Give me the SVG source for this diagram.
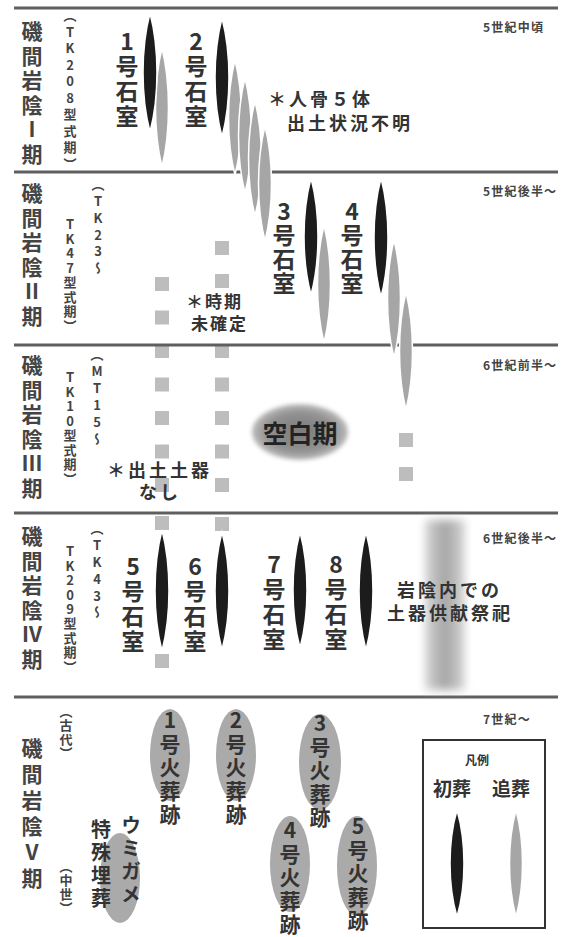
<svg xmlns="http://www.w3.org/2000/svg" width="567" height="937" viewBox="0 0 567 937">
<style>
text{font-family:"Noto Sans CJK JP","Noto Sans",sans-serif;font-weight:700;fill:#333}
.v{writing-mode:vertical-rl;text-orientation:upright}
.big{font-size:21px;letter-spacing:3.5px;fill:#444}
.sm{font-size:13px;fill:#444}
.room{font-size:23px;letter-spacing:2px}
.kaso{font-size:21px;letter-spacing:2.5px}
.note{font-size:18px;letter-spacing:3px}
.era{font-size:12px;letter-spacing:1.2px;fill:#444}
.sep{stroke:#5f5f5f;stroke-width:3}
.blk{fill:#1c1c1c;stroke:#fff;stroke-width:1.5}
.gry{fill:#a6a6a6;stroke:#fff;stroke-width:1.5}
.sq{fill:#bdbdbd}
.pit{fill:#aaa}
</style>
<defs>
<path id="lens" d="M0,-60 C9.3,-24 9.3,24 0,60 C-9.3,24 -9.3,-24 0,-60Z" vector-effect="non-scaling-stroke"/>
<radialGradient id="blank" cx="0.5" cy="0.5" r="0.5">
<stop offset="0" stop-color="#7a7a7a"/><stop offset="0.7" stop-color="#929292"/><stop offset="1" stop-color="#bcbcbc"/>
</radialGradient>
<linearGradient id="bar" x1="0" y1="0" x2="1" y2="0">
<stop offset="0" stop-color="#d6d6d6"/><stop offset="0.5" stop-color="#a4a4a4"/><stop offset="1" stop-color="#d6d6d6"/>
</linearGradient>
<filter id="soft" x="-30%" y="-30%" width="160%" height="160%"><feGaussianBlur stdDeviation="2"/></filter>
<filter id="soft4" x="-50%" y="-20%" width="200%" height="140%"><feGaussianBlur stdDeviation="4"/></filter>
</defs>

<g id="connectors">
<rect class="sq" x="155" y="277" width="14" height="14"/>
<rect class="sq" x="155" y="310.5" width="14" height="14"/>
<rect class="sq" x="155" y="344" width="14" height="14"/>
<rect class="sq" x="155" y="377.5" width="14" height="14"/>
<rect class="sq" x="155" y="411" width="14" height="14"/>
<rect class="sq" x="155" y="444.5" width="14" height="14"/>
<rect class="sq" x="155" y="478" width="14" height="14"/>
<rect class="sq" x="155" y="516" width="14" height="14"/>
<rect class="sq" x="155" y="654" width="14" height="14"/>
<rect class="sq" x="215" y="241" width="14" height="14"/>
<rect class="sq" x="215" y="274" width="14" height="14"/>
<rect class="sq" x="215" y="344" width="14" height="14"/>
<rect class="sq" x="215" y="377.5" width="14" height="14"/>
<rect class="sq" x="215" y="411" width="14" height="14"/>
<rect class="sq" x="215" y="444.5" width="14" height="14"/>
<rect class="sq" x="215" y="478" width="14" height="14"/>
<rect class="sq" x="215" y="517" width="14" height="14"/>
<rect class="sq" x="399" y="433" width="14" height="14"/>
<rect class="sq" x="399" y="467" width="14" height="14"/>
</g>

<g id="period-lines">
<line class="sep" x1="14" y1="8" x2="558" y2="8"/>
<line class="sep" x1="14" y1="172" x2="558" y2="172"/>
<line class="sep" x1="14" y1="345" x2="558" y2="345"/>
<line class="sep" x1="14" y1="513" x2="558" y2="513"/>
<line class="sep" x1="14" y1="697" x2="558" y2="697"/>
</g>

<g id="period-labels">
<text class="v big" x="32" y="21">磯間岩陰Ⅰ期</text>
<text class="v big" x="32" y="183">磯間岩陰Ⅱ期</text>
<text class="v big" x="32" y="355">磯間岩陰Ⅲ期</text>
<text class="v big" x="32" y="526">磯間岩陰Ⅳ期</text>
<text class="v big" x="32" y="738" style="letter-spacing:5px">磯間岩陰Ⅴ期</text>
<text class="v sm" x="70" y="9" style="letter-spacing:3.5px">（TK208型式期）</text>
<text class="v sm" x="98" y="178" style="letter-spacing:3.7px">（TK23～</text>
<text class="v sm" x="70" y="218" style="letter-spacing:1.5px">TK47型式期）</text>
<text class="v sm" x="97" y="348" style="letter-spacing:4px">（MT15～</text>
<text class="v sm" x="70" y="371" style="letter-spacing:1.5px">TK10型式期）</text>
<text class="v sm" x="97" y="522" style="letter-spacing:3.8px">（TK43～</text>
<text class="v sm" x="70" y="545" style="letter-spacing:1.4px">TK209型式期）</text>
<text class="v sm" x="66" y="705" style="letter-spacing:1px">（古代）</text>
<text class="v sm" x="66" y="860" style="letter-spacing:1px">（中世）</text>
<text class="era" x="483" y="32">5世紀中頃</text>
<text class="era" x="483" y="196">5世紀後半～</text>
<text class="era" x="483" y="370">6世紀前半～</text>
<text class="era" x="483" y="543">6世紀後半～</text>
<text class="era" x="483" y="724">7世紀～</text>
</g>

<g id="room1">
<use href="#lens" class="gry" transform="translate(162,107.5) scale(0.93,0.992)"/>
<use href="#lens" class="blk" transform="translate(150,72.5) scale(1,0.992)"/>
<text class="v room" x="127" y="30">1号石室</text>
</g>

<g id="room2">
<use href="#lens" class="blk" transform="translate(222,77.5) scale(1,0.992)"/>
<use href="#lens" class="gry" transform="translate(235,117.5) scale(0.93,0.958)"/>
<use href="#lens" class="gry" transform="translate(245,135.5) scale(0.93,0.958)"/>
<use href="#lens" class="gry" transform="translate(255,158.5) scale(0.93,0.958)"/>
<use href="#lens" class="gry" transform="translate(265,183.5) scale(0.93,0.958)"/>
<text class="v room" x="196" y="30">2号石室</text>
</g>

<g id="note-bones">
<text class="note" x="268" y="106">＊人骨５体</text>
<text class="note" x="287" y="130">出土状況不明</text>
</g>

<g id="room3">
<use href="#lens" class="blk" transform="translate(311,236.5) scale(1,0.975)"/>
<use href="#lens" class="gry" transform="translate(324,284) scale(0.93,0.983)"/>
<text class="v room" x="284" y="200" style="letter-spacing:1px">3号石室</text>
</g>

<g id="room4">
<use href="#lens" class="blk" transform="translate(381,237.5) scale(1,0.992)"/>
<use href="#lens" class="gry" transform="translate(394,299) scale(0.93,0.983)"/>
<use href="#lens" class="gry" transform="translate(406,351) scale(0.93,0.983)"/>
<text class="v room" x="352" y="200" style="letter-spacing:1px">4号石室</text>
</g>

<g id="note-undated">
<text x="186" y="308" style="font-size:17px;letter-spacing:2px">＊時期</text>
<text x="191" y="330" style="font-size:17px;letter-spacing:2px">未確定</text>
</g>

<g id="blank-period">
<ellipse cx="300" cy="432" rx="48" ry="28" fill="url(#blank)" filter="url(#soft)"/>
<text x="300" y="443" text-anchor="middle" style="font-size:25px;fill:#222">空白期</text>
</g>

<g id="note-nopottery">
<text class="note" x="107" y="477">＊出土土器</text>
<text class="note" x="139" y="499">なし</text>
</g>

<g id="room5">
<use href="#lens" class="blk" transform="translate(162,590.5) scale(1,1.008)"/>
<text class="v room" x="133" y="555">5号石室</text>
</g>
<g id="room6">
<use href="#lens" class="blk" transform="translate(222,591) scale(1,0.983)"/>
<text class="v room" x="195" y="555">6号石室</text>
</g>
<g id="room7">
<use href="#lens" class="blk" transform="translate(300,590) scale(1,0.967)"/>
<text class="v room" x="274" y="553">7号石室</text>
</g>
<g id="room8">
<use href="#lens" class="blk" transform="translate(366,591) scale(1,0.983)"/>
<text class="v room" x="336" y="553">8号石室</text>
</g>

<g id="ritual">
<rect x="425" y="520" width="40" height="170" fill="url(#bar)" filter="url(#soft4)"/>
<text class="note" x="397" y="597">岩陰内での</text>
<text class="note" x="387" y="620">土器供献祭祀</text>
</g>

<g id="cremation1">
<ellipse class="pit" cx="170" cy="755" rx="20" ry="46"/>
<text class="v kaso" x="170" y="710">1号火葬跡</text>
</g>
<g id="cremation2">
<ellipse class="pit" cx="236" cy="755" rx="20" ry="46"/>
<text class="v kaso" x="236" y="710">2号火葬跡</text>
</g>
<g id="cremation3">
<ellipse class="pit" cx="320" cy="762" rx="21" ry="48"/>
<text class="v kaso" x="320" y="713">3号火葬跡</text>
</g>
<g id="cremation4">
<ellipse class="pit" cx="290" cy="864" rx="20" ry="48"/>
<text class="v kaso" x="290" y="820">4号火葬跡</text>
</g>
<g id="cremation5">
<ellipse class="pit" cx="357" cy="866" rx="20" ry="50"/>
<text class="v kaso" x="358" y="816">5号火葬跡</text>
</g>

<g id="turtle">
<ellipse class="pit" cx="120" cy="878" rx="20" ry="45"/>
<text class="v" x="131" y="815" style="font-size:20px;letter-spacing:3px">ウミガメ</text>
<text class="v" x="101" y="819" style="font-size:20px;letter-spacing:3.3px">特殊埋葬</text>
</g>

<g id="legend">
<rect x="423" y="740" width="122" height="188" fill="none" stroke="#333" stroke-width="2"/>
<text x="477" y="765" text-anchor="middle" style="font-size:12px">凡例</text>
<text x="452" y="796" text-anchor="middle" style="font-size:19px">初葬</text>
<text x="511" y="796" text-anchor="middle" style="font-size:19px">追葬</text>
<use href="#lens" class="blk" transform="translate(457,863.5) scale(1,0.892)"/>
<use href="#lens" class="gry" transform="translate(516,863.5) scale(0.93,0.892)"/>
</g>
</svg>
